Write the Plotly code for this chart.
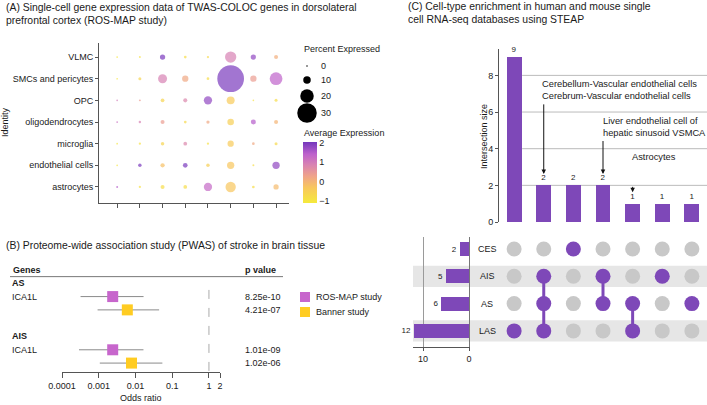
import math
import plotly.graph_objects as go

W, H = 707, 405
FONT = "Liberation Sans, Arial, Helvetica, sans-serif"
TXT = "#1a1a1a"
AX = "#555555"


def fx(p):
    return p / W


def fy(p):
    return 1 - p / H


# ---------------- Panel A data (rows bottom -> top) ----------------
cell_types = ["astrocytes", "endothelial cells", "microglia", "oligodendrocytes",
              "OPC", "SMCs and pericytes", "VLMC"]
gene_cols = [1, 2, 3, 4, 5, 6, 7, 8]

pct_astrocytes = [0.8, 1.3, 4.2, 3.7, 11.3, 14.7, 2.0, 6.3]
pct_endothelial = [0.3, 3.3, 4.7, 5.3, 3.3, 9.7, 0.8, 9.7]
pct_microglia = [0.3, 1.3, 3.3, 3.7, 1.3, 8.0, 2.0, 2.5]
pct_oligo = [0.5, 1.5, 4.2, 2.0, 3.0, 8.5, 5.8, 4.2]
pct_opc = [0.3, 0.8, 3.7, 4.2, 11.3, 10.8, 0.3, 2.5]
pct_smc = [0.3, 2.5, 12.5, 8.0, 2.0, 42.0, 8.0, 18.7]
pct_vlmc = [0.3, 0.8, 6.3, 2.0, 1.3, 16.3, 6.3, 4.2]

exp_astrocytes = [1.5, -0.9, -0.8, -0.8, 1.3, -0.3, -0.8, -0.1]
exp_endothelial = [-1.0, 2.0, -0.2, 2.0, -0.5, -0.3, -0.8, 1.8]
exp_microglia = [-1.0, -0.9, -0.6, 0.8, -0.9, -0.4, 0.2, -0.7]
exp_oligo = [1.2, 0.9, 0.4, -0.7, 0.2, -0.5, 1.5, 0.0]
exp_opc = [1.0, 0.4, -0.6, 0.8, 1.8, -0.4, -0.9, -0.8]
exp_smc = [-1.0, -0.6, 0.9, 0.2, -0.8, 2.0, 0.4, 1.4]
exp_vlmc = [-1.0, -0.9, 2.0, -0.8, -0.7, 0.9, 1.8, 0.1]

pct_rows = [pct_astrocytes, pct_endothelial, pct_microglia, pct_oligo, pct_opc, pct_smc, pct_vlmc]
exp_rows = [exp_astrocytes, exp_endothelial, exp_microglia, exp_oligo, exp_opc, exp_smc, exp_vlmc]

size_legend_vals = [0, 10, 20, 30]
expr_ticks = [-1, 0, 1, 2]

# ---------------- Panel B data ----------------
study_names = ["ROS-MAP study", "Banner study"]
study_colors = ["#C766CC", "#FFCC22"]
outcomes = ["AS", "AIS"]
gene_name = "ICA1L"
or_AS = [0.0024, 0.0060]
lo_AS = [0.00032, 0.00093]
hi_AS = [0.0166, 0.044]
or_AIS = [0.0024, 0.0078]
lo_AIS = [0.00029, 0.00107]
hi_AIS = [0.0165, 0.054]
p_AS = ["8.25e-10", "4.21e-07"]
p_AIS = ["1.01e-09", "1.02e-06"]
odds_ticks = [0.0001, 0.001, 0.01, 0.1, 1, 2]
odds_ticktext = ["0.0001", "0.001", "0.01", "0.1", "1", "2"]

# ---------------- Panel C data ----------------
sets = ["LAS", "AS", "AIS", "CES"]          # bottom -> top
set_sizes = [12, 6, 5, 2]
inter_sizes = [9, 2, 2, 2, 1, 1, 1]
inter_members = [["LAS"], ["AIS", "AS", "LAS"], ["CES"], ["AIS", "AS"],
                 ["AS", "LAS"], ["AIS"], ["AS"]]
callout_cols = [2, 4, 5]
callout_texts = ["Cerebellum-Vascular endothelial cells<br>Cerebrum-Vascular endothelial cells",
                 "Liver endothelial cell of<br>hepatic sinusoid VSMCA",
                 "Astrocytes"]

PURPLE = "#7E48B8"
GREY_DOT = "#C8C8C8"
EXPR_SCALE = [[0.0, "#F5EA3C"], [0.25, "#F8C75C"], [0.44, "#EFA38A"],
              [0.63, "#D882B2"], [0.8, "#BE62CC"], [1.0, "#7438BC"]]


def dot_size(p):
    return 1.5 + 0.6 * p


fig = go.Figure()
annotations = []
shapes = []


def txt(x, y, s, size=9, xanchor="left", yanchor="middle", xref="paper", yref="paper",
        bold=False, angle=0, color=TXT, align="left"):
    if bold:
        s = "<b>" + s + "</b>"
    annotations.append(dict(x=x, y=y, xref=xref, yref=yref, text=s, showarrow=False,
                            xanchor=xanchor, yanchor=yanchor, textangle=angle, align=align,
                            font=dict(size=size, color=color, family=FONT)))


# ================= Panel A =================
xs, ys, ss, cs = [], [], [], []
for ri, row in enumerate(pct_rows):
    for ci, p in enumerate(row):
        xs.append(gene_cols[ci])
        ys.append(ri + 1)
        ss.append(dot_size(p))
        cs.append(exp_rows[ri][ci])

fig.add_trace(go.Scatter(
    x=xs, y=ys, mode="markers", xaxis="x", yaxis="y", hoverinfo="skip",
    marker=dict(size=ss, sizemode="diameter", color=cs, colorscale=EXPR_SCALE,
                cmin=-1.1, cmax=2.05, line=dict(width=0),
                colorbar=dict(x=fx(303), xanchor="left", y=fy(142), yanchor="top",
                              len=61, lenmode="pixels", thickness=14, thicknessmode="pixels",
                              tickvals=expr_ticks, ticks="", outlinewidth=0,
                              xpad=0, ypad=0,
                              tickfont=dict(size=9, color=TXT, family=FONT)))))

TSIZE = 10.4
txt(fx(4), fy(8), "(A) Single-cell gene expression data of TWAS-COLOC genes in dorsolateral", size=TSIZE)
txt(fx(4), fy(20), "prefrontal cortex (ROS-MAP study)", size=TSIZE)
txt(fx(5), fy(122), "Identity", angle=-90, xanchor="center")
txt(fx(302), fy(49), "Percent Expressed")
txt(fx(302), fy(133), "Average Expression")

legend_y = [66, 80, 96, 113]
for v, cy in zip(size_legend_vals, legend_y):
    d = dot_size(v)
    cx = 307
    shapes.append(dict(type="circle", xref="paper", yref="paper",
                       x0=fx(cx - d / 2), x1=fx(cx + d / 2), y0=fy(cy + d / 2), y1=fy(cy - d / 2),
                       fillcolor="black", line=dict(width=0)))
    txt(fx(319), fy(cy), str(v))

# ================= Panel B =================
rows_B = {}
for gi, oc in enumerate(outcomes):
    rows_B[oc] = 1 + 4 * gi
ors = {"AS": or_AS, "AIS": or_AIS}
los = {"AS": lo_AS, "AIS": lo_AIS}
his = {"AS": hi_AS, "AIS": hi_AIS}
pvs = {"AS": p_AS, "AIS": p_AIS}

fig.add_trace(go.Scatter(x=[1, 1], y=[1.5, 7.67], mode="lines", xaxis="x2", yaxis="y2",
                         line=dict(color="#AAAAAA", width=1, dash="dash"), hoverinfo="skip"))

for si, sname in enumerate(study_names):
    lx, ly, mx, my = [], [], [], []
    for oc in outcomes:
        r = rows_B[oc] + 1 + si
        lx += [los[oc][si], his[oc][si], None]
        ly += [r, r, None]
        mx.append(ors[oc][si])
        my.append(r)
    fig.add_trace(go.Scatter(x=lx, y=ly, mode="lines", xaxis="x2", yaxis="y2",
                             line=dict(color="#8A8A8A", width=1), hoverinfo="skip"))
    fig.add_trace(go.Scatter(x=mx, y=my, mode="markers", xaxis="x2", yaxis="y2",
                             marker=dict(symbol="square", size=11, color=study_colors[si],
                                         line=dict(width=0)), hoverinfo="skip"))

txt(fx(4), fy(245), "(B) Proteome-wide association study (PWAS) of stroke in brain tissue", size=TSIZE)
txt(fx(11), 0, "Genes", yref="y2", bold=True)
txt(fx(243), 0, "p value", yref="y2", bold=True)
shapes.append(dict(type="line", xref="paper", yref="y2", x0=fx(10), x1=fx(283), y0=0.5, y1=0.5,
                   line=dict(color="#777777", width=1)))
for oc in outcomes:
    r = rows_B[oc]
    txt(fx(10), r, oc, yref="y2", bold=True)
    txt(fx(10), r + 1, gene_name, yref="y2")
    for si in range(len(study_names)):
        txt(fx(243), r + 1 + si, pvs[oc][si], yref="y2")
txt(fx(141), fy(398), "Odds ratio", xanchor="center")

for si, sname in enumerate(study_names):
    cy = 297 + 15 * si
    shapes.append(dict(type="rect", xref="paper", yref="paper",
                       x0=fx(300), x1=fx(310), y0=fy(cy + 5), y1=fy(cy - 5),
                       fillcolor=study_colors[si], line=dict(width=0)))
    txt(fx(314), fy(cy), sname)

# ================= Panel C =================
cols = list(range(1, len(inter_sizes) + 1))
set_row = {s: i + 1 for i, s in enumerate(sets)}

for gv in [2, 4, 6, 8]:
    shapes.append(dict(type="line", xref="x3", yref="y3", x0=1.27, x1=7.51, y0=gv, y1=gv,
                       layer="below", line=dict(color="#BBBBBB", width=1)))
for i, s in enumerate(sets):
    if i % 2 == 0:
        r = set_row[s]
        shapes.append(dict(type="rect", xref="paper", yref="y5", x0=fx(413), x1=1,
                           y0=r - 0.39, y1=r + 0.39, layer="below",
                           fillcolor="#E6E6E6", line=dict(width=0)))

fig.add_trace(go.Bar(x=cols, y=inter_sizes, xaxis="x3", yaxis="y3", width=0.5,
                     marker=dict(color=PURPLE, line=dict(width=0)),
                     text=[str(v) for v in inter_sizes], textposition="outside",
                     textfont=dict(size=8, color=TXT, family=FONT), cliponaxis=False,
                     hoverinfo="skip"))

fig.add_trace(go.Bar(x=set_sizes, y=[set_row[s] for s in sets], orientation="h",
                     xaxis="x4", yaxis="y4", width=0.52,
                     marker=dict(color=PURPLE, line=dict(width=0)),
                     text=[str(v) for v in set_sizes], textposition="outside",
                     textfont=dict(size=8, color=TXT, family=FONT), cliponaxis=False,
                     hoverinfo="skip"))

gx, gy, px_, py_ = [], [], [], []
lx, ly = [], []
for c, mem in zip(cols, inter_members):
    for s in sets:
        if s in mem:
            px_.append(c)
            py_.append(set_row[s])
        else:
            gx.append(c)
            gy.append(set_row[s])
    if len(mem) > 1:
        rr = [set_row[s] for s in mem]
        lx += [c, c, None]
        ly += [min(rr), max(rr), None]

fig.add_trace(go.Scatter(x=gx, y=gy, mode="markers", xaxis="x5", yaxis="y5",
                         marker=dict(size=15, color=GREY_DOT, line=dict(width=0)), hoverinfo="skip"))
fig.add_trace(go.Scatter(x=lx, y=ly, mode="lines", xaxis="x5", yaxis="y5",
                         line=dict(color=PURPLE, width=3), hoverinfo="skip"))
fig.add_trace(go.Scatter(x=px_, y=py_, mode="markers", xaxis="x5", yaxis="y5",
                         marker=dict(size=15, color=PURPLE, line=dict(width=0)), hoverinfo="skip"))

for s in sets:
    txt(fx(487), set_row[s], s, yref="y5", xanchor="center")

txt(fx(406), fy(7), "(C) Cell-type enrichment in human and mouse single", size=TSIZE)
txt(fx(406), fy(19), "cell RNA-seq databases using STEAP", size=TSIZE)
txt(fx(484), fy(137), "Intersection size", angle=-90, xanchor="center")

callout_text_dx = [-0.13, -0.07, -0.1]
callout_text_y = [7.2, 5.16, 3.55]
callout_tail = [6.5, 4.5, 2.0]
for c, t, dx, ty, tail in zip(callout_cols, callout_texts, callout_text_dx, callout_text_y, callout_tail):
    txt(c + dx, ty, t, xref="x3", yref="y3", size=9.3)
    tip = inter_sizes[c - 1] + 0.62
    annotations.append(dict(x=c, y=tip, ax=c, ay=tail, xref="x3", yref="y3",
                            axref="x3", ayref="y3", text="", showarrow=True,
                            arrowhead=2, arrowsize=0.9, arrowwidth=1, arrowcolor="#111111"))

# ---------------- Axes ----------------
tickfont = dict(size=9, color=TXT, family=FONT)
common_line = dict(showline=True, linecolor=AX, linewidth=1, ticks="outside", tickcolor=AX,
                   zeroline=False, showgrid=False, tickfont=tickfont, automargin=False)
hidden = dict(visible=False, automargin=False)

fig.update_layout(
    template="none",
    width=W, height=H, margin=dict(l=0, r=0, t=0, b=0, pad=0, autoexpand=False),
    paper_bgcolor="white", plot_bgcolor="rgba(0,0,0,0)",
    showlegend=False, font=dict(family=FONT, size=9, color=TXT),
    bargap=0, hovermode=False,
    xaxis=dict(domain=[fx(99), fx(289)], range=[0.2, 8.57], tickvals=gene_cols,
               showticklabels=False, ticklen=4, anchor="y", **common_line),
    yaxis=dict(domain=[fy(203), fy(43)], range=[0.26, 7.65], tickvals=list(range(1, 8)),
               ticktext=cell_types, ticklen=3, anchor="x", **common_line),
    xaxis2=dict(domain=[fx(62), fx(220)], type="log", range=[-4, math.log10(2)],
                tickvals=odds_ticks, ticktext=odds_ticktext, ticklen=5, anchor="y2", **common_line),
    yaxis2=dict(domain=[fy(372), fy(262)], range=[7.67, -0.6], anchor="x2", **hidden),
    xaxis3=dict(domain=[fx(499), 1], range=[0.49, 7.51], anchor="y3", **hidden),
    yaxis3=dict(domain=[fy(222), fy(49)], range=[0, 9.44], tickvals=[0, 2, 4, 6, 8],
                ticklen=3, anchor="x3", **common_line),
    xaxis4=dict(domain=[fx(413), fx(469)], range=[12.2, 0], tickvals=[0, 10], ticklen=3,
                anchor="y4", showline=True, linecolor=AX, linewidth=1, ticks="outside",
                tickcolor=AX, zeroline=False, showgrid=True, gridcolor="#9A9A9A", gridwidth=1,
                tickfont=tickfont, automargin=False),
    yaxis4=dict(domain=[fy(347), fy(237)], range=[0.41, 4.44], showticklabels=False, ticks="",
                showline=True, linecolor="#777777", side="right", anchor="x4",
                showgrid=False, zeroline=False, automargin=False),
    xaxis5=dict(domain=[fx(499), 1], range=[0.49, 7.51], anchor="y5", **hidden),
    yaxis5=dict(domain=[fy(347), fy(237)], range=[0.41, 4.44], anchor="x5", **hidden),
    annotations=annotations,
    shapes=shapes,
)

fig.write_html("out.html", config={"displayModeBar": False, "staticPlot": True},
               post_script="document.body.style.margin='0';document.body.style.overflow='hidden';")
